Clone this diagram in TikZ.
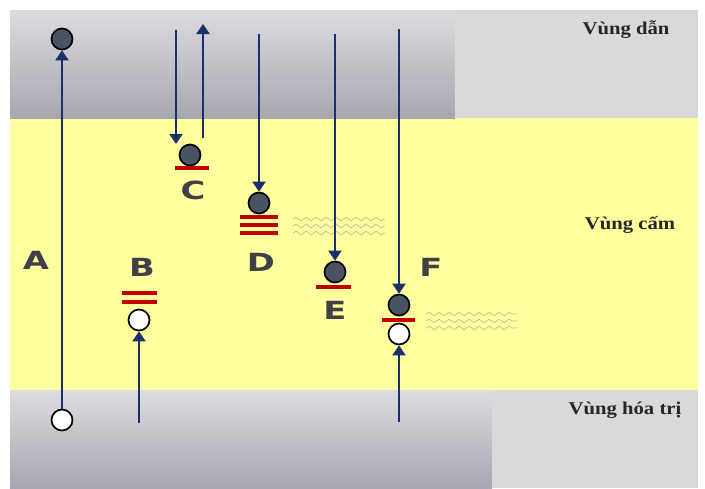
\documentclass[tikz,border=0pt]{standalone}
\usepackage{fontspec}
\setmainfont{Liberation Serif}
\newfontfamily\lettfont{DejaVu Sans}
\usetikzlibrary{arrows.meta,decorations.pathmorphing}
\definecolor{bandtop}{HTML}{DCDCE0}
\definecolor{bandbot}{HTML}{A6A7B0}
\definecolor{sidegray}{HTML}{D9D9D9}
\definecolor{gapyellow}{HTML}{FFFF9E}
\definecolor{navy}{HTML}{1B2F6B}
\definecolor{levelred}{HTML}{C00000}
\definecolor{elecfill}{HTML}{4A5363}
\definecolor{lettgray}{HTML}{404048}
\definecolor{wavecol}{HTML}{C4C39A}
\newcommand{\lettr}[1]{\scalebox{1.35}[1]{#1}}
\newcommand{\bandtxt}[1]{\scalebox{1.15}[1]{#1}}
\tikzset{
  arr/.style={navy, line width=2.1pt, -{Triangle[length=10pt,width=13pt]}},
  elec/.style={circle, draw=black, line width=1.7pt, fill=elecfill, minimum size=21pt, inner sep=0pt},
  hole/.style={circle, draw=black, line width=1.7pt, fill=white, minimum size=21pt, inner sep=0pt},
  lvl/.style={levelred, line width=3.6pt},
  lett/.style={font=\lettfont\bfseries\fontsize{25}{25}\selectfont, text=lettgray, inner sep=0pt},
  bandlbl/.style={font=\bfseries\fontsize{18}{18}\selectfont, text=black!85, inner sep=0pt},
  wav/.style={wavecol, line width=0.8pt, decorate, decoration={snake, amplitude=1.8pt, segment length=10pt}}
}
\begin{document}
\begin{tikzpicture}[x=1pt,y=-1pt]
\useasboundingbox (0,0) rectangle (705,488);
\fill[white] (0,0) rectangle (705,488);
% bands
\fill[gapyellow] (10,118) rectangle (698,390);
\shade[top color=bandtop, bottom color=bandbot] (10,10) rectangle (455,118);
\fill[sidegray] (455,10) rectangle (698,118);
\shade[top color=bandtop, bottom color=bandbot] (10,390) rectangle (492,488);
\fill[sidegray] (492,390) rectangle (698,488);
% band labels
\node[bandlbl] (lc) at (626,30) {\bandtxt{Vùng dẫn}};
\node[bandlbl] (lg) at (630,225) {\bandtxt{Vùng cấm}};
\node[bandlbl] (lv) at (625,410) {\bandtxt{Vùng hóa trị}};
% A
\node[hole] (hA) at (62,420) {};
\node[elec] (eA) at (62,39) {};
\draw[arr] (hA) -- (eA);
\node[lett] (tA) at (36,260) {\lettr{A}};
% B
\node[hole] (hB) at (139,320) {};
\coordinate (sB) at (139,423);
\draw[arr] (sB) -- (hB);
\draw[lvl] (122,293) -- (157,293);
\draw[lvl] (122,302) -- (157,302);
\node[lett] (tB) at (142,267) {\lettr{B}};
% C
\node[elec] (eC) at (190,155) {};
\coordinate (cC1) at (176,30);
\coordinate (cC2) at (176,144);
\coordinate (cC3) at (203,138);
\coordinate (cC4) at (203,24);
\draw[arr] (cC1) -- (cC2);
\draw[arr] (cC3) -- (cC4);
\draw[lvl] (175,168) -- (209,168);
\node[lett] (tC) at (193,190) {\lettr{C}};
% D
\node[elec] (eD) at (259,203) {};
\coordinate (sD) at (259,34);
\draw[arr] (sD) -- (eD);
\draw[lvl] (240,217) -- (278,217);
\draw[lvl] (240,225) -- (278,225);
\draw[lvl] (240,233) -- (278,233);
\node[lett] (tD) at (261,262) {\lettr{D}};
\foreach \yy in {219,226,233}{\draw[wav] (293,\yy) -- (385,\yy);}
% E
\node[elec] (eE) at (335,272) {};
\coordinate (sE) at (335,34);
\draw[arr] (sE) -- (eE);
\draw[lvl] (316,287) -- (351,287);
\node[lett] (tE) at (335,310) {\lettr{E}};
% F
\node[elec] (eF) at (399,305) {};
\node[hole] (hF) at (399,334) {};
\coordinate (sF) at (399,29);
\coordinate (sF2) at (399,422);
\draw[arr] (sF) -- (eF);
\draw[arr] (sF2) -- (hF);
\draw[lvl] (382,320) -- (415,320);
\node[lett] (tF) at (431,267) {\lettr{F}};
\foreach \yy in {314,321,328}{\draw[wav] (426,\yy) -- (517,\yy);}
\end{tikzpicture}
\end{document}
